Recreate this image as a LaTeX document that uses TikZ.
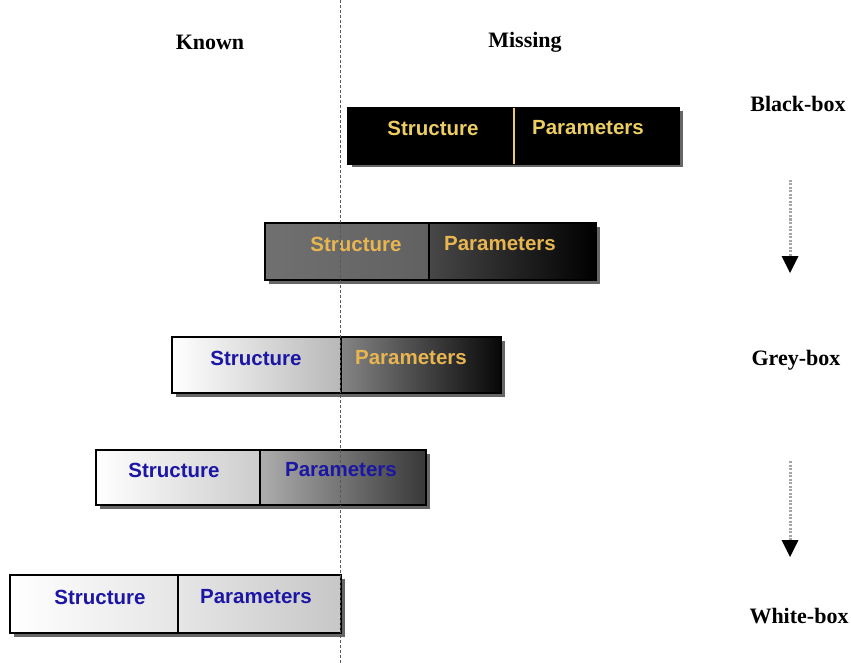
\documentclass[tikz,border=0pt]{standalone}
\usepackage{fontspec}
\setmainfont{Liberation Serif}
\newfontfamily\boxfont{Liberation Sans}
\usetikzlibrary{arrows.meta,shadows}
\definecolor{boxyellow}{RGB}{236,206,98}
\definecolor{boxorange}{RGB}{232,182,80}
\definecolor{boxblue}{RGB}{28,22,165}
\tikzset{
  part/.style={draw=black, line width=2pt, rectangle, anchor=north west, inner sep=0pt,
    minimum height=56pt,
    drop shadow={shadow xshift=3.5pt, shadow yshift=-3.5pt, fill=black!60, opacity=1}},
  partlabel/.style={font=\boxfont\bfseries\fontsize{20.5}{23}\selectfont, inner sep=0pt},
  heading/.style={font=\bfseries\fontsize{22}{25}\selectfont, inner sep=0pt},
  divline/.style={draw=black!65, line width=1pt, dash pattern=on 3pt off 2pt},
  stageline/.style={draw=black!35, line width=3pt, dash pattern=on 2pt off 1.5pt,
    -{Triangle[width=17pt,length=17pt,fill=black,black,line width=0pt]}}
}
\begin{document}
\begin{tikzpicture}[x=1pt,y=-1pt]
\useasboundingbox (0,0) rectangle (851,663);

% column headings
\node[heading] (known) at (210,42) {Known};
\node[heading] (missing) at (525,42) {Missing};

% stage labels
\node[heading] (black) at (798,104) {Black-box};
\node[heading] (grey) at (796,360) {Grey-box};
\node[heading] (white) at (799,616) {White-box};

% black box
\node[part, fill=black, minimum width=165pt] (s1) at (347,107) {};
\node[part, fill=black, minimum width=166pt] (p1) at (512,107) {};
\draw[boxyellow, line width=1.6pt] ([yshift=-1pt]s1.north east) -- ([yshift=1pt]s1.south east);
\node[partlabel, text=boxyellow] (ts1) at (433,128) {Structure};
\node[partlabel, text=boxyellow] (tp1) at (588,128) {Parameters};

% first intermediate
\node[part, left color=black!56, right color=black!62, minimum width=164pt, minimum height=57pt] (s2) at (264,222) {};
\node[part, left color=black!72, right color=black, minimum width=167pt, minimum height=57pt] (p2) at (428,222) {};
\node[partlabel, text=boxorange] (ts2) at (356,244) {Structure};
\node[partlabel, text=boxorange] (tp2) at (500,244) {Parameters};

% grey box
\node[part, left color=white, right color=black!28, minimum width=169pt] (s3) at (171,336) {};
\node[part, left color=black!48, right color=black!97, minimum width=160pt] (p3) at (340,336) {};
\node[partlabel, text=boxblue] (ts3) at (256,358) {Structure};
\node[partlabel, text=boxorange] (tp3) at (411,358) {Parameters};

% second intermediate
\node[part, left color=white, right color=black!20, minimum width=164pt, minimum height=55pt] (s4) at (95,449) {};
\node[part, left color=black!32, right color=black!78, minimum width=166pt, minimum height=55pt] (p4) at (259,449) {};
\node[partlabel, text=boxblue] (ts4) at (174,470) {Structure};
\node[partlabel, text=boxblue] (tp4) at (341,470) {Parameters};

% white box
\node[part, left color=white, right color=black!10, minimum width=168pt, minimum height=58pt] (s5) at (9,574) {};
\node[part, left color=black!10, right color=black!22, minimum width=163pt, minimum height=58pt] (p5) at (177,574) {};
\node[partlabel, text=boxblue] (ts5) at (100,597) {Structure};
\node[partlabel, text=boxblue] (tp5) at (256,597) {Parameters};

% known / missing divide
\coordinate (dtop) at (340,0);
\coordinate (dbot) at (340,663);
\draw[divline] (dtop) -- (dbot);

% progression arrows
\coordinate (a1s) at (790,180);
\coordinate (a1e) at (790,273);
\coordinate (a2s) at (790,461);
\coordinate (a2e) at (790,557);
\draw[stageline] (a1s) -- (a1e);
\draw[stageline] (a2s) -- (a2e);
\end{tikzpicture}
\end{document}
